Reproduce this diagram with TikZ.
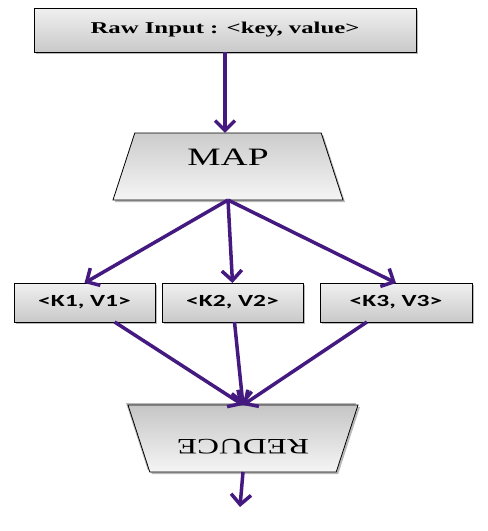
\documentclass[tikz,border=0pt]{standalone}
\usepackage{graphicx,fontspec}
\usetikzlibrary{arrows.meta,positioning,shapes.geometric,shadows}
\setmainfont{Liberation Serif}
\newfontfamily\kfont{Carlito}
\definecolor{ac}{RGB}{68,26,128}
\newcommand{\wide}[1]{\scalebox{1.5}[1]{#1}}
\tikzset{bx/.style={draw,line width=.8pt,top color=gray!12,bottom color=gray!42,outer sep=0pt,
   drop shadow={shadow xshift=2pt,shadow yshift=-2pt,opacity=.55}},
 kv/.style={bx,minimum height=39pt,font=\kfont\bfseries\fontsize{17}{20}\selectfont},
 tz/.style={draw,line width=.8pt,trapezium,trapezium left angle=72,trapezium right angle=72,
   trapezium stretches body,minimum width=230pt,inner xsep=0pt,inner ysep=33.5pt,outer sep=0pt,
   drop shadow={shadow xshift=2pt,shadow yshift=-2pt,opacity=.55}},
 arr/.style={-{Straight Barb[length=10pt,width=20pt]},line width=3.5pt,draw=ac}}
\begin{document}
\begin{tikzpicture}[x=1pt,y=1pt]
\useasboundingbox (0,0) rectangle (488,-531);
\node[bx,minimum width=382pt,minimum height=44pt,font=\bfseries\fontsize{16.5}{20}\selectfont] (raw) at (225,-30) {\wide{Raw Input : <key, value>}};
\node[tz,top color=gray!40,bottom color=gray!8,font=\fontsize{25}{28}\selectfont] (map) at (228,-166.5) {\raisebox{1pt}[0pt][0pt]{\wide{MAP}}};
\node[kv,minimum width=141pt] (k2) at (232.5,-302.5) {\wide{<K2, V2>}};
\node[kv,minimum width=141pt,left=7pt of k2] (k1) {\wide{<K1, V1>}};
\node[kv,minimum width=152pt,right=17pt of k2] (k3) {\wide{<K3, V3>}};
\node[tz,rotate=180,top color=gray!45,bottom color=gray!8,font=\fontsize{22}{26}\selectfont,
   drop shadow={shadow xshift=-2pt,shadow yshift=2pt,opacity=.55}] (red) at (243,-438.5) {\raisebox{1pt}[0pt][0pt]{\wide{REDUCE}}};
\coordinate (out) at (240,-507);
% flow
\draw[arr] (raw) -- (raw |- map.north);
\foreach \k in {k1,k2,k3}{\draw[arr] (map.south) -- (\k.north);}
\foreach \k in {k1,k2,k3}{\draw[arr] (\k) -- (red.south);}
\draw[arr] (red.north) -- (out);
\end{tikzpicture}
\end{document}
